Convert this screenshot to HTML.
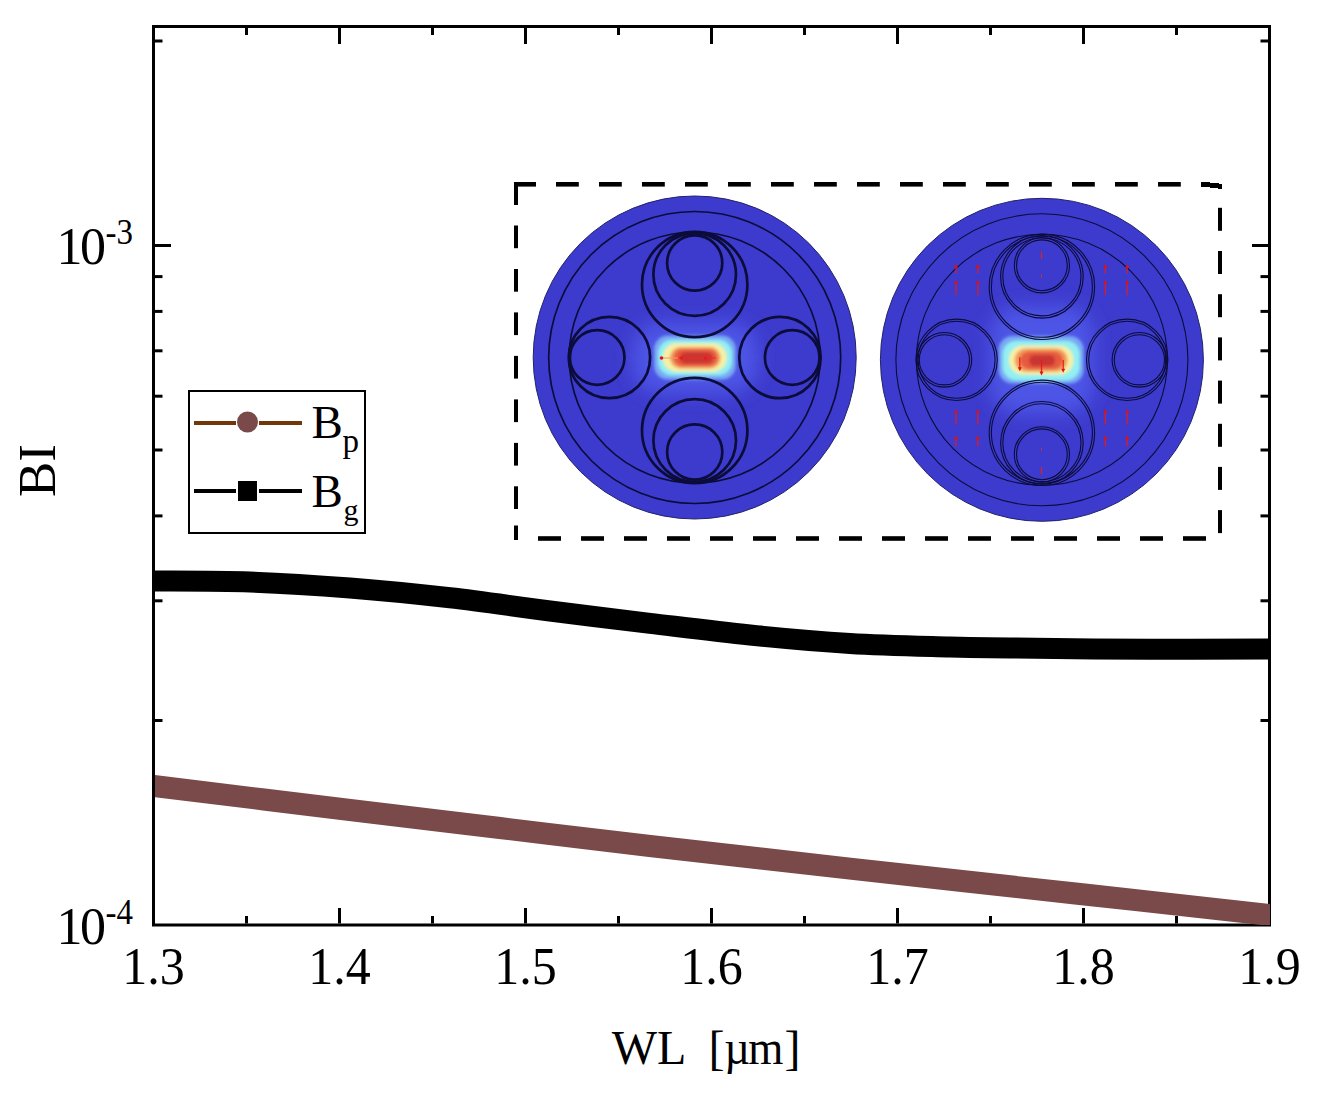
<!DOCTYPE html>
<html><head><meta charset="utf-8">
<style>
html,body{margin:0;padding:0;background:#fff;}
body{width:1322px;height:1093px;overflow:hidden;position:relative;}
svg{position:absolute;left:0;top:0;}
text{font-family:"Liberation Serif",serif;fill:#000;}
</style></head>
<body>
<svg width="1322" height="1093" viewBox="0 0 1322 1093">
<defs>
  <clipPath id="plot"><rect x="155" y="28" width="1115" height="897"/></clipPath>
</defs>
<rect x="0" y="0" width="1322" height="1093" fill="#fff"/>
<defs><filter id="bigblur" x="-50%" y="-50%" width="200%" height="200%"><feGaussianBlur stdDeviation="9"/></filter><filter id="smblur" x="-50%" y="-50%" width="200%" height="200%"><feGaussianBlur stdDeviation="1.6"/></filter></defs>
<circle cx="694.7" cy="357.5" r="161.5" fill="#3c3bcd" stroke="#22226a" stroke-width="1"/>
<rect x="632" y="322" width="126" height="72" rx="30" fill="#4d55e6" filter="url(#bigblur)"/>
<g filter="url(#smblur)">
<rect x="654" y="335.6" width="81.8" height="43.9" rx="14.0" fill="#78aaf4"/>
<rect x="658.2" y="339.7" width="73.8" height="35.6" rx="14.0" fill="#92eff2"/>
<rect x="662.8" y="343.2" width="63.9" height="28.7" rx="14.0" fill="#f6f0a4"/>
<rect x="670" y="347" width="50.6" height="21.5" rx="10.8" fill="#f29a5c"/>
<rect x="673.7" y="349.2" width="43.9" height="17.0" rx="8.5" fill="#e65a3c"/>
<rect x="679.8" y="352.2" width="33.2" height="11.4" rx="5.7" fill="#c93432"/>
</g>
<circle cx="694.7" cy="357.5" r="146" fill="none" stroke="#0c0c3a" stroke-width="1.7"/>
<circle cx="694.7" cy="357.5" r="125.5" fill="none" stroke="#0c0c3a" stroke-width="1.7"/>
<circle cx="694.7" cy="284.5" r="52.7" fill="none" stroke="#0c0c3a" stroke-width="2.7"/>
<circle cx="694.7" cy="274.5" r="41.3" fill="none" stroke="#0c0c3a" stroke-width="2.7"/>
<circle cx="694.7" cy="263.0" r="27.6" fill="none" stroke="#0c0c3a" stroke-width="2.7"/>
<circle cx="609.4000000000001" cy="357.5" r="40.7" fill="none" stroke="#0c0c3a" stroke-width="2.7"/>
<circle cx="597.2" cy="357.5" r="27.3" fill="none" stroke="#0c0c3a" stroke-width="2.7"/>
<circle cx="694.7" cy="430.5" r="52.7" fill="none" stroke="#0c0c3a" stroke-width="2.7"/>
<circle cx="694.7" cy="440.5" r="41.3" fill="none" stroke="#0c0c3a" stroke-width="2.7"/>
<circle cx="694.7" cy="452.0" r="27.6" fill="none" stroke="#0c0c3a" stroke-width="2.7"/>
<circle cx="780.0" cy="357.5" r="40.7" fill="none" stroke="#0c0c3a" stroke-width="2.7"/>
<circle cx="792.2" cy="357.5" r="27.3" fill="none" stroke="#0c0c3a" stroke-width="2.7"/>
<circle cx="1041.9" cy="359.8" r="161.5" fill="#3c3bcd" stroke="#22226a" stroke-width="1"/>
<rect x="990" y="306" width="104" height="108" rx="30" fill="#4d55e6" filter="url(#bigblur)"/>
<g filter="url(#smblur)">
<rect x="998.7" y="335.9" width="85.0" height="47.6" rx="14.0" fill="#78aaf4"/>
<rect x="1002.7" y="340.7" width="77.1" height="39.7" rx="14.0" fill="#92eff2"/>
<rect x="1009" y="345.4" width="64.4" height="29.4" rx="14.0" fill="#f6f0a4"/>
<rect x="1014.5" y="348.4" width="53.0" height="23.4" rx="11.7" fill="#f29a5c"/>
<rect x="1020" y="351.4" width="43.0" height="17.8" rx="8.9" fill="#e65a3c"/>
<rect x="1029" y="355" width="26.0" height="11.0" rx="5.5" fill="#c93432"/>
</g>
<circle cx="1041.9" cy="359.8" r="146" fill="none" stroke="#0c0c3a" stroke-width="1.1"/>
<circle cx="1041.9" cy="359.8" r="125.5" fill="none" stroke="#0c0c3a" stroke-width="1.1"/>
<circle cx="1041.9" cy="286.8" r="52.7" fill="none" stroke="#0c0c3a" stroke-width="1.1"/>
<circle cx="1041.9" cy="286.8" r="50.5" fill="none" stroke="#0c0c3a" stroke-width="1.1"/>
<circle cx="1041.9" cy="276.8" r="41.3" fill="none" stroke="#0c0c3a" stroke-width="1.1"/>
<circle cx="1041.9" cy="276.8" r="39.099999999999994" fill="none" stroke="#0c0c3a" stroke-width="1.1"/>
<circle cx="1041.9" cy="265.3" r="27.6" fill="none" stroke="#0c0c3a" stroke-width="1.1"/>
<circle cx="1041.9" cy="265.3" r="25.400000000000002" fill="none" stroke="#0c0c3a" stroke-width="1.1"/>
<circle cx="956.6000000000001" cy="359.8" r="40.7" fill="none" stroke="#0c0c3a" stroke-width="1.1"/>
<circle cx="956.6000000000001" cy="359.8" r="38.5" fill="none" stroke="#0c0c3a" stroke-width="1.1"/>
<circle cx="944.4000000000001" cy="359.8" r="27.3" fill="none" stroke="#0c0c3a" stroke-width="1.1"/>
<circle cx="944.4000000000001" cy="359.8" r="25.1" fill="none" stroke="#0c0c3a" stroke-width="1.1"/>
<circle cx="1041.9" cy="432.8" r="52.7" fill="none" stroke="#0c0c3a" stroke-width="1.1"/>
<circle cx="1041.9" cy="432.8" r="50.5" fill="none" stroke="#0c0c3a" stroke-width="1.1"/>
<circle cx="1041.9" cy="442.8" r="41.3" fill="none" stroke="#0c0c3a" stroke-width="1.1"/>
<circle cx="1041.9" cy="442.8" r="39.099999999999994" fill="none" stroke="#0c0c3a" stroke-width="1.1"/>
<circle cx="1041.9" cy="454.3" r="27.6" fill="none" stroke="#0c0c3a" stroke-width="1.1"/>
<circle cx="1041.9" cy="454.3" r="25.400000000000002" fill="none" stroke="#0c0c3a" stroke-width="1.1"/>
<circle cx="1127.2" cy="359.8" r="40.7" fill="none" stroke="#0c0c3a" stroke-width="1.1"/>
<circle cx="1127.2" cy="359.8" r="38.5" fill="none" stroke="#0c0c3a" stroke-width="1.1"/>
<circle cx="1139.4" cy="359.8" r="27.3" fill="none" stroke="#0c0c3a" stroke-width="1.1"/>
<circle cx="1139.4" cy="359.8" r="25.1" fill="none" stroke="#0c0c3a" stroke-width="1.1"/>
<line x1="956" y1="273.5" x2="956" y2="267" stroke="#e41a1a" stroke-width="1.2"/>
<path d="M954,268 L956,264 L958,268Z" fill="#e01010"/>
<line x1="956" y1="295.2" x2="956" y2="283" stroke="#e41a1a" stroke-width="1.2"/>
<path d="M954,284 L956,280 L958,284Z" fill="#e01010"/>
<line x1="956" y1="424.8" x2="956" y2="412" stroke="#e41a1a" stroke-width="1.2"/>
<path d="M954,413 L956,409 L958,413Z" fill="#e01010"/>
<line x1="956" y1="446.5" x2="956" y2="438.2" stroke="#e41a1a" stroke-width="1.2"/>
<path d="M954,439.2 L956,435.2 L958,439.2Z" fill="#e01010"/>
<line x1="977.8" y1="273.5" x2="977.8" y2="267" stroke="#e41a1a" stroke-width="1.2"/>
<path d="M975.8,268 L977.8,264 L979.8,268Z" fill="#e01010"/>
<line x1="977.8" y1="295.2" x2="977.8" y2="283" stroke="#e41a1a" stroke-width="1.2"/>
<path d="M975.8,284 L977.8,280 L979.8,284Z" fill="#e01010"/>
<line x1="977.8" y1="424.8" x2="977.8" y2="412" stroke="#e41a1a" stroke-width="1.2"/>
<path d="M975.8,413 L977.8,409 L979.8,413Z" fill="#e01010"/>
<line x1="977.8" y1="446.5" x2="977.8" y2="438.2" stroke="#e41a1a" stroke-width="1.2"/>
<path d="M975.8,439.2 L977.8,435.2 L979.8,439.2Z" fill="#e01010"/>
<line x1="1105.4" y1="273.5" x2="1105.4" y2="267" stroke="#e41a1a" stroke-width="1.2"/>
<path d="M1103.4,268 L1105.4,264 L1107.4,268Z" fill="#e01010"/>
<line x1="1105.4" y1="295.2" x2="1105.4" y2="283" stroke="#e41a1a" stroke-width="1.2"/>
<path d="M1103.4,284 L1105.4,280 L1107.4,284Z" fill="#e01010"/>
<line x1="1105.4" y1="424.8" x2="1105.4" y2="412" stroke="#e41a1a" stroke-width="1.2"/>
<path d="M1103.4,413 L1105.4,409 L1107.4,413Z" fill="#e01010"/>
<line x1="1105.4" y1="446.5" x2="1105.4" y2="438.2" stroke="#e41a1a" stroke-width="1.2"/>
<path d="M1103.4,439.2 L1105.4,435.2 L1107.4,439.2Z" fill="#e01010"/>
<line x1="1127.1" y1="273.5" x2="1127.1" y2="267" stroke="#e41a1a" stroke-width="1.2"/>
<path d="M1125.1,268 L1127.1,264 L1129.1,268Z" fill="#e01010"/>
<line x1="1127.1" y1="295.2" x2="1127.1" y2="283" stroke="#e41a1a" stroke-width="1.2"/>
<path d="M1125.1,284 L1127.1,280 L1129.1,284Z" fill="#e01010"/>
<line x1="1127.1" y1="424.8" x2="1127.1" y2="412" stroke="#e41a1a" stroke-width="1.2"/>
<path d="M1125.1,413 L1127.1,409 L1129.1,413Z" fill="#e01010"/>
<line x1="1127.1" y1="446.5" x2="1127.1" y2="438.2" stroke="#e41a1a" stroke-width="1.2"/>
<path d="M1125.1,439.2 L1127.1,435.2 L1129.1,439.2Z" fill="#e01010"/>
<line x1="1019.8" y1="357.3" x2="1019.8" y2="368.2" stroke="#e41a1a" stroke-width="1.2"/>
<path d="M1017.8,367.2 L1019.8,371.2 L1021.8,367.2Z" fill="#e01010"/>
<line x1="1041.5" y1="360.1" x2="1041.5" y2="372.6" stroke="#e41a1a" stroke-width="1.2"/>
<path d="M1039.5,371.6 L1041.5,375.6 L1043.5,371.6Z" fill="#e01010"/>
<line x1="1063.2" y1="360" x2="1063.2" y2="369.8" stroke="#e41a1a" stroke-width="1.2"/>
<path d="M1061.2,368.8 L1063.2,372.8 L1065.2,368.8Z" fill="#e01010"/>
<line x1="1041.5" y1="251.5" x2="1041.5" y2="259" stroke="#e02020" stroke-width="1.2"/>
<line x1="1041.5" y1="274" x2="1041.5" y2="277.5" stroke="#c83040" stroke-width="1"/>
<line x1="1041.5" y1="447.5" x2="1041.5" y2="450.5" stroke="#c83040" stroke-width="1"/>
<line x1="1041.5" y1="467" x2="1041.5" y2="474.5" stroke="#e02020" stroke-width="1.2"/>
<line x1="661" y1="358" x2="678" y2="358" stroke="#f39a6a" stroke-width="1"/>
<line x1="678" y1="358" x2="716" y2="358" stroke="#f02a20" stroke-width="1"/>
<circle cx="661.5" cy="358" r="1.8" fill="#f01010"/>
<circle cx="681.5" cy="358" r="1.6" fill="#ff1010"/>
<circle cx="705.5" cy="358" r="1.6" fill="#ff1010"/>
<g fill="#000"><rect x="514.0" y="182.0" width="22.0" height="4.6"/>
<rect x="556.0" y="182.0" width="22.8" height="4.6"/>
<rect x="599.0" y="182.0" width="22.8" height="4.6"/>
<rect x="642.0" y="182.0" width="22.8" height="4.6"/>
<rect x="685.0" y="182.0" width="22.8" height="4.6"/>
<rect x="728.0" y="182.0" width="22.8" height="4.6"/>
<rect x="771.0" y="182.0" width="22.8" height="4.6"/>
<rect x="814.0" y="182.0" width="22.8" height="4.6"/>
<rect x="857.0" y="182.0" width="22.8" height="4.6"/>
<rect x="900.0" y="182.0" width="22.8" height="4.6"/>
<rect x="943.0" y="182.0" width="22.8" height="4.6"/>
<rect x="986.0" y="182.0" width="22.8" height="4.6"/>
<rect x="1029.0" y="182.0" width="22.8" height="4.6"/>
<rect x="1072.0" y="182.0" width="22.8" height="4.6"/>
<rect x="1115.0" y="182.0" width="22.8" height="4.6"/>
<rect x="1158.0" y="182.0" width="22.8" height="4.6"/>
<path d="M1201,182 L1210,182 L1210,183 L1219,183 L1219,184 L1222,184 L1222,189 L1218,189 L1218,188 L1210,188 L1210,187 L1201,187Z"/>
<rect x="514.0" y="182.0" width="4.0" height="23.0"/>
<rect x="514.0" y="225.5" width="4.0" height="22.7"/>
<rect x="514.0" y="269.0" width="4.0" height="22.7"/>
<rect x="514.0" y="312.4" width="4.0" height="22.7"/>
<rect x="514.0" y="355.9" width="4.0" height="22.7"/>
<rect x="514.0" y="399.4" width="4.0" height="22.7"/>
<rect x="514.0" y="442.9" width="4.0" height="22.7"/>
<rect x="514.0" y="486.3" width="4.0" height="22.7"/>
<rect x="514.0" y="525.5" width="4.0" height="14.5"/>
<rect x="1218.0" y="207.8" width="4.0" height="23.0"/>
<rect x="1218.0" y="251.0" width="4.0" height="23.0"/>
<rect x="1218.0" y="294.2" width="4.0" height="23.0"/>
<rect x="1218.0" y="337.4" width="4.0" height="23.0"/>
<rect x="1218.0" y="380.6" width="4.0" height="23.0"/>
<rect x="1218.0" y="423.8" width="4.0" height="23.0"/>
<rect x="1218.0" y="466.9" width="4.0" height="23.0"/>
<rect x="1218.0" y="510.1" width="4.0" height="23.0"/>
<rect x="538.0" y="536.2" width="23.0" height="4.6"/>
<rect x="581.0" y="536.2" width="23.0" height="4.6"/>
<rect x="624.0" y="536.2" width="23.0" height="4.6"/>
<rect x="667.0" y="536.2" width="23.0" height="4.6"/>
<rect x="710.0" y="536.2" width="23.0" height="4.6"/>
<rect x="753.0" y="536.2" width="23.0" height="4.6"/>
<rect x="796.0" y="536.2" width="23.0" height="4.6"/>
<rect x="839.0" y="536.2" width="23.0" height="4.6"/>
<rect x="882.0" y="536.2" width="23.0" height="4.6"/>
<rect x="925.0" y="536.2" width="23.0" height="4.6"/>
<rect x="968.0" y="536.2" width="23.0" height="4.6"/>
<rect x="1011.0" y="536.2" width="23.0" height="4.6"/>
<rect x="1054.0" y="536.2" width="23.0" height="4.6"/>
<rect x="1097.0" y="536.2" width="23.0" height="4.6"/>
<rect x="1140.0" y="536.2" width="23.0" height="4.6"/>
<rect x="1183.0" y="536.2" width="23.0" height="4.6"/></g>
<rect x="153.5" y="26.5" width="1116" height="898.5" fill="none" stroke="#000" stroke-width="3"/>
<g stroke="#000" stroke-width="3">
<line x1="246.5" y1="923.5" x2="246.5" y2="916.0"/>
<line x1="246.5" y1="28" x2="246.5" y2="35.0"/>
<line x1="339.5" y1="923.5" x2="339.5" y2="908.0"/>
<line x1="339.5" y1="28" x2="339.5" y2="44.0"/>
<line x1="432.5" y1="923.5" x2="432.5" y2="916.0"/>
<line x1="432.5" y1="28" x2="432.5" y2="35.0"/>
<line x1="525.5" y1="923.5" x2="525.5" y2="908.0"/>
<line x1="525.5" y1="28" x2="525.5" y2="44.0"/>
<line x1="618.5" y1="923.5" x2="618.5" y2="916.0"/>
<line x1="618.5" y1="28" x2="618.5" y2="35.0"/>
<line x1="711.5" y1="923.5" x2="711.5" y2="908.0"/>
<line x1="711.5" y1="28" x2="711.5" y2="44.0"/>
<line x1="804.5" y1="923.5" x2="804.5" y2="916.0"/>
<line x1="804.5" y1="28" x2="804.5" y2="35.0"/>
<line x1="897.5" y1="923.5" x2="897.5" y2="908.0"/>
<line x1="897.5" y1="28" x2="897.5" y2="44.0"/>
<line x1="990.5" y1="923.5" x2="990.5" y2="916.0"/>
<line x1="990.5" y1="28" x2="990.5" y2="35.0"/>
<line x1="1083.5" y1="923.5" x2="1083.5" y2="908.0"/>
<line x1="1083.5" y1="28" x2="1083.5" y2="44.0"/>
<line x1="1176.5" y1="923.5" x2="1176.5" y2="916.0"/>
<line x1="1176.5" y1="28" x2="1176.5" y2="35.0"/>
<line x1="155" y1="720.5" x2="162.5" y2="720.5"/>
<line x1="1268" y1="720.5" x2="1260.5" y2="720.5"/>
<line x1="155" y1="600.8" x2="162.5" y2="600.8"/>
<line x1="1268" y1="600.8" x2="1260.5" y2="600.8"/>
<line x1="155" y1="515.9" x2="162.5" y2="515.9"/>
<line x1="1268" y1="515.9" x2="1260.5" y2="515.9"/>
<line x1="155" y1="450.0" x2="162.5" y2="450.0"/>
<line x1="1268" y1="450.0" x2="1260.5" y2="450.0"/>
<line x1="155" y1="396.2" x2="162.5" y2="396.2"/>
<line x1="1268" y1="396.2" x2="1260.5" y2="396.2"/>
<line x1="155" y1="350.8" x2="162.5" y2="350.8"/>
<line x1="1268" y1="350.8" x2="1260.5" y2="350.8"/>
<line x1="155" y1="311.4" x2="162.5" y2="311.4"/>
<line x1="1268" y1="311.4" x2="1260.5" y2="311.4"/>
<line x1="155" y1="276.6" x2="162.5" y2="276.6"/>
<line x1="1268" y1="276.6" x2="1260.5" y2="276.6"/>
<line x1="155" y1="245.5" x2="171.0" y2="245.5"/>
<line x1="1268" y1="245.5" x2="1252.0" y2="245.5"/>
<line x1="155" y1="41.0" x2="162.5" y2="41.0"/>
<line x1="1268" y1="41.0" x2="1260.5" y2="41.0"/>
</g>
<g clip-path="url(#plot)" fill="none" stroke-linejoin="round">
  <path stroke="#000" stroke-width="21" d="M150,581 C166.7,581.2 216.7,580.8 250.0,582.0 C283.3,583.2 316.7,585.4 350.0,588.0 C383.3,590.6 416.7,594.0 450.0,597.8 C483.3,601.6 516.7,606.8 550.0,611.0 C583.3,615.2 616.7,619.3 650.0,623.3 C683.3,627.3 716.7,631.6 750.0,635.0 C783.3,638.4 816.7,641.4 850.0,643.4 C883.3,645.4 923.3,646.2 950.0,647.0 C976.7,647.8 976.7,647.6 1010.0,648.0 C1043.3,648.4 1105.8,649.1 1150.0,649.3 C1194.2,649.5 1254.2,649.0 1275.0,649.0"/>
  <path stroke="#7a4949" stroke-width="22" d="M150,785.5 C183.3,789.6 291.7,802.9 350.0,810.0 C408.3,817.1 450.0,822.0 500.0,828.0 C550.0,834.0 591.7,839.2 650.0,846.0 C708.3,852.8 778.3,860.6 850.0,868.6 C921.7,876.6 1009.2,886.2 1080.0,894.0 C1150.8,901.8 1242.5,911.9 1275.0,915.5"/>
</g>
<rect x="189" y="391" width="176" height="142" fill="#fff" stroke="#000" stroke-width="2"/>
<line x1="194" y1="423" x2="236" y2="423" stroke="#723609" stroke-width="4"/>
<line x1="259" y1="423" x2="302" y2="423" stroke="#723609" stroke-width="4"/>
<circle cx="247.5" cy="422" r="10.5" fill="#7a4949"/>
<line x1="194" y1="491" x2="236" y2="491" stroke="#000" stroke-width="4"/>
<line x1="259" y1="491" x2="302" y2="491" stroke="#000" stroke-width="4"/>
<rect x="238" y="481" width="19" height="20" fill="#000"/>
<text x="311.5" y="438" font-size="47">B</text>
<text x="342.5" y="452" font-size="33">p</text>
<text x="311.5" y="507" font-size="47">B</text>
<text x="343.5" y="519.5" font-size="30">g</text>
<text transform="translate(153.5,983.5) scale(1,1.07)" font-size="50" text-anchor="middle">1.3</text>
<text transform="translate(339.5,983.5) scale(1,1.07)" font-size="50" text-anchor="middle">1.4</text>
<text transform="translate(525.5,983.5) scale(1,1.07)" font-size="50" text-anchor="middle">1.5</text>
<text transform="translate(711.5,983.5) scale(1,1.07)" font-size="50" text-anchor="middle">1.6</text>
<text transform="translate(897.5,983.5) scale(1,1.07)" font-size="50" text-anchor="middle">1.7</text>
<text transform="translate(1083.5,983.5) scale(1,1.07)" font-size="50" text-anchor="middle">1.8</text>
<text transform="translate(1269.5,983.5) scale(1,1.07)" font-size="50" text-anchor="middle">1.9</text>
<text x="56.4" y="264" font-size="52">1</text>
<text x="80" y="264" font-size="52">0</text>
<text transform="translate(105.5,243.7) scale(1,1.07)" font-size="33">-3</text>
<text x="56.4" y="944" font-size="52">1</text>
<text x="80" y="944" font-size="52">0</text>
<text transform="translate(105.5,923.7) scale(1,1.07)" font-size="33">-4</text>
<text x="611.7" y="1064" font-size="48" xml:space="preserve">WL  [</text>
<text transform="translate(724.3,1064) scale(0.93,1)" font-size="48">µ</text>
<text transform="translate(748.35,1064) scale(0.94,1)" font-size="48">m</text>
<text x="784.6" y="1064" font-size="48">]</text>
<text transform="translate(55,470.6) rotate(-90)" font-size="53" text-anchor="middle">BI</text>
</svg>
</body></html>
